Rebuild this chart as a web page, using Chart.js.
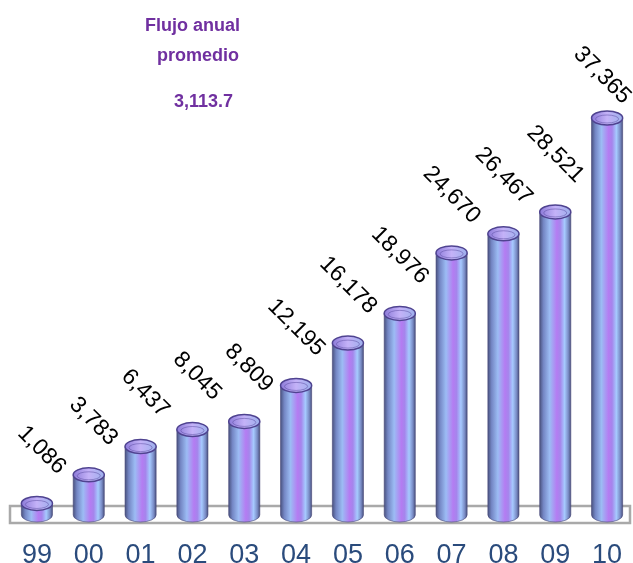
<!DOCTYPE html>
<html>
<head>
<meta charset="utf-8">
<script src="https://cdn.jsdelivr.net/npm/chart.js@4"></script>
<style>
  html, body { margin: 0; padding: 0; background: #fff; }
  canvas { display: block; }
</style>
</head>
<body>
<canvas id="myChart" width="633" height="563"></canvas>
<script>
const years = ["99", "00", "01", "02", "03", "04", "05", "06", "07", "08", "09", "10"];
const flujo = [1086, 3783, 6437, 8045, 8809, 12195, 16178, 18976, 24670, 26467, 28521, 37365];
const tituloLineas = ["Flujo anual", "promedio", "3,113.7"];

const FONT = "'Liberation Sans', Arial, sans-serif";

// piso gris debajo de los cilindros
const floorPlugin = {
  id: "floor",
  beforeDatasetsDraw(chart) {
    const ctx = chart.ctx;
    const a = chart.chartArea;
    ctx.save();
    ctx.fillStyle = "#ffffff";
    ctx.strokeStyle = "#a9a9a9";
    ctx.lineWidth = 2.5;
    ctx.fillRect(a.left - 1, a.bottom - 9, a.right - a.left - 2, 17);
    ctx.strokeRect(a.left - 1, a.bottom - 9, a.right - a.left - 2, 17);
    ctx.restore();
  }
};

// cilindros + etiquetas giradas
const cylinderPlugin = {
  id: "cylinders",
  afterDatasetsDraw(chart) {
    const ctx = chart.ctx;
    const meta = chart.getDatasetMeta(0);
    meta.data.forEach((bar, i) => {
      const w = bar.width;
      const x0 = bar.x - w / 2;
      const x1 = bar.x + w / 2;
      const top = bar.y;
      const base = bar.base;
      const ry = 7;
      ctx.save();

      const g = ctx.createLinearGradient(x0, 0, x1, 0);
      g.addColorStop(0, "#4a5380");
      g.addColorStop(0.12, "#7486c4");
      g.addColorStop(0.32, "#9cbcf4");
      g.addColorStop(0.55, "#b47cf2");
      g.addColorStop(0.66, "#a585ec");
      g.addColorStop(0.8, "#a6caff");
      g.addColorStop(0.92, "#7a8cc6");
      g.addColorStop(1, "#4a5380");

      // cuerpo
      ctx.beginPath();
      ctx.moveTo(x0, top);
      ctx.lineTo(x0, base);
      ctx.ellipse(bar.x, base, w / 2, ry, 0, Math.PI, 0, true);
      ctx.lineTo(x1, top);
      ctx.closePath();
      ctx.fillStyle = g;
      ctx.fill();
      ctx.strokeStyle = "rgba(70,70,120,0.6)";
      ctx.lineWidth = 1;
      ctx.stroke();

      // tapa
      const gt = ctx.createLinearGradient(x0, 0, x1, 0);
      gt.addColorStop(0, "#8c7ad8");
      gt.addColorStop(0.5, "#c4b2f8");
      gt.addColorStop(1, "#9db0ec");
      ctx.beginPath();
      ctx.ellipse(bar.x, top, w / 2, ry, 0, 0, Math.PI * 2);
      ctx.fillStyle = gt;
      ctx.fill();
      ctx.strokeStyle = "#4f4390";
      ctx.lineWidth = 1.5;
      ctx.stroke();
      ctx.beginPath();
      ctx.ellipse(bar.x, top + 1, w / 2 - 4, ry - 3, 0, 0, Math.PI * 2);
      ctx.strokeStyle = "rgba(90,75,160,0.5)";
      ctx.lineWidth = 1;
      ctx.stroke();

      // etiqueta (se corre si no cabe a la derecha)
      let lx = bar.x + 25;
      let ly = top - 33;
      const over = lx - (chart.width - 6);
      if (over > 0) {
        lx -= over;
        ly += over * 3;
      }
      ctx.translate(lx, ly);
      ctx.rotate(Math.PI / 4);
      ctx.font = "23px " + FONT;
      ctx.fillStyle = "#000000";
      ctx.textAlign = "right";
      ctx.textBaseline = "middle";
      ctx.fillText(flujo[i].toLocaleString("en-US"), 0, 0);
      ctx.restore();
    });

    // texto del promedio
    ctx.save();
    ctx.font = "bold 18px " + FONT;
    ctx.fillStyle = "#7030a0";
    ctx.textBaseline = "alphabetic";
    ctx.fillText(tituloLineas[0], 145, 31);
    ctx.fillText(tituloLineas[1], 157, 61);
    ctx.fillText(tituloLineas[2], 174, 107);
    ctx.restore();
  }
};

const chart = new Chart(document.getElementById("myChart"), {
  type: "bar",
  data: {
    labels: years,
    datasets: [{
      data: flujo,
      backgroundColor: "rgba(0,0,0,0)",
      borderWidth: 0,
      barPercentage: 0.6,
      categoryPercentage: 1
    }]
  },
  options: {
    responsive: false,
    animation: false,
    layout: { padding: { left: 11, right: 0, top: 90, bottom: 0 } },
    plugins: {
      legend: { display: false },
      tooltip: { enabled: false }
    },
    scales: {
      x: {
        grid: { display: false },
        border: { display: false },
        ticks: {
          color: "#2a4b7c",
          font: { size: 27, family: FONT },
          padding: 16,
          maxRotation: 0
        },
        afterFit(scale) {
          scale.height = 48;
          scale.paddingLeft = 0;
          scale.paddingRight = 0;
        }
      },
      y: {
        display: false,
        min: 0,
        max: 40000
      }
    }
  },
  plugins: [floorPlugin, cylinderPlugin]
});
</script>
</body>
</html>
